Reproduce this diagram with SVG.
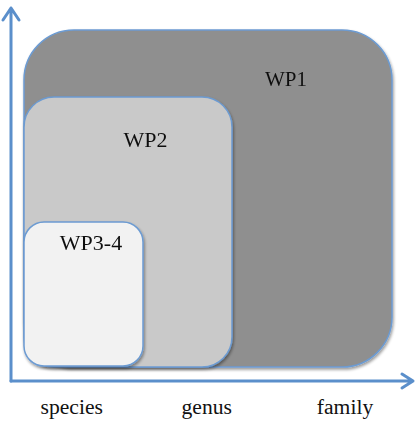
<svg xmlns="http://www.w3.org/2000/svg" width="417" height="421" viewBox="0 0 417 421">
<style>
.box{stroke:#6c9bd2;stroke-width:1.5}
text{font-family:'Liberation Serif','Times New Roman',serif;fill:#111}
.wp{font-size:22px}
.ax{font-size:21.6px}
.axis{stroke:#5b8fcb;stroke-width:3;fill:none;stroke-linecap:round;stroke-linejoin:round}
</style>
<defs>
<filter id="sh" x="-10%" y="-10%" width="120%" height="120%">
<feGaussianBlur in="SourceAlpha" stdDeviation="1.5"/>
<feOffset dx="1" dy="2"/>
<feComponentTransfer><feFuncA type="linear" slope="0.4"/></feComponentTransfer>
<feMerge><feMergeNode/><feMergeNode in="SourceGraphic"/></feMerge>
</filter>
</defs>
<rect width="417" height="421" fill="#fff"/>
<g id="wp1" filter="url(#sh)">
<rect class="box" x="24" y="30" width="368" height="337" rx="50" ry="50" fill="#8f8f8f"/>
<text class="wp" x="286" y="86" text-anchor="middle" style="font-size:21px">WP1</text>
</g>
<g id="wp2" filter="url(#sh)">
<rect class="box" x="24" y="97" width="208" height="270" rx="30" ry="30" fill="#c9c9c9"/>
<text class="wp" x="145.5" y="146.5" text-anchor="middle">WP2</text>
</g>
<g id="wp34" filter="url(#sh)">
<rect class="box" x="24" y="222" width="119" height="144" rx="20" ry="20" fill="#f2f2f2"/>
<text class="wp" x="91" y="250" text-anchor="middle">WP3-4</text>
</g>
<g id="connectors">
<path class="axis" d="M11 381 V8 M3 20 L11 8 L19 20"/>
<path class="axis" d="M11 381 H413 M402 374 L413 381 L402 388"/>
</g>
<g id="axis-labels">
<text class="ax" x="71.7" y="414" text-anchor="middle">species</text>
<text class="ax" x="206.7" y="414" text-anchor="middle">genus</text>
<text class="ax" x="345" y="414" text-anchor="middle">family</text>
</g>
</svg>
